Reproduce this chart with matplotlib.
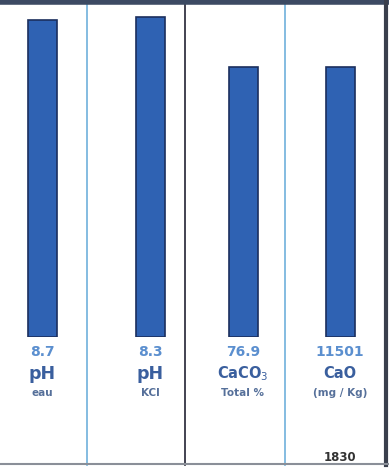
import matplotlib.pyplot as plt
from matplotlib.lines import Line2D

# valeurs
valeurs = [8.7, 8.3, 76.9, 11501]
etiquettes_valeurs = ["8.7", "8.3", "76.9", "11501"]
noms = ["pH", "pH", "CaCO$_3$", "CaO"]
sous_noms = ["eau", "KCl", "Total %", "(mg / Kg)"]
echelles = [9.1, 8.6, 94.5, 14150]  # chaque colonne a sa propre échelle
note = "1830"

W, H = 389, 473
fig = plt.figure(figsize=(W / 100, H / 100), dpi=100)
fig.patch.set_facecolor("white")

# limites des colonnes et centre des barres (en pixels)
bords = [0, 87, 185, 285, 384]
centres = [42, 150, 243, 340]
haut_barre, bas_barre = 5, 337

for i in range(4):
    x0, x1 = bords[i], bords[i + 1]
    w = x1 - x0
    ax = fig.add_axes([x0 / W, 1 - bas_barre / H, w / W, (bas_barre - haut_barre) / H])
    ax.bar([0], [valeurs[i]], width=29 / w, color="#2f62b3", edgecolor="#1b2f5e", linewidth=1.2)
    a = -(centres[i] - x0) / w
    ax.set_xlim(a, a + 1)
    ax.set_ylim(0, echelles[i])
    ax.axis("off")
    ax.patch.set_alpha(0)

    xc = centres[i] / W
    fig.text(xc, 1 - 352 / H, etiquettes_valeurs[i], ha="center", va="center",
             fontsize=10, fontweight="bold", color="#5b8fcf")
    fig.text(xc, 1 - 374 / H, noms[i], ha="center", va="center",
             fontsize=12.5 if i < 2 else 10.5, fontweight="bold", color="#3a5f9e")
    fig.text(xc, 1 - 393 / H, sous_noms[i], ha="center", va="center",
             fontsize=7.5, fontweight="bold", color="#56709a")

fig.text(centres[3] / W, 1 - 457 / H, note, ha="center", va="center",
         fontsize=8.5, fontweight="bold", color="#333333")

# séparateurs verticaux
couleurs_sep = ["#6fb0dc", "#222233", "#6fb0dc"]
for x, c in zip(bords[1:4], couleurs_sep):
    fig.add_artist(Line2D([x / W, x / W], [1 - 465 / H, 1 - 4 / H], color=c,
                          linewidth=1.2, transform=fig.transFigure))
# cadre
fig.add_artist(Line2D([0, 1], [1 - 2 / H, 1 - 2 / H], color="#3c4a63", linewidth=4,
                      transform=fig.transFigure))
fig.add_artist(Line2D([386 / W, 386 / W], [1 - 465 / H, 1], color="#3a3f4d", linewidth=3,
                      transform=fig.transFigure))
fig.add_artist(Line2D([0, 1], [1 - 464 / H, 1 - 464 / H], color="#8a8f98", linewidth=1.5,
                      transform=fig.transFigure))

fig.savefig("out.png", dpi=100)
